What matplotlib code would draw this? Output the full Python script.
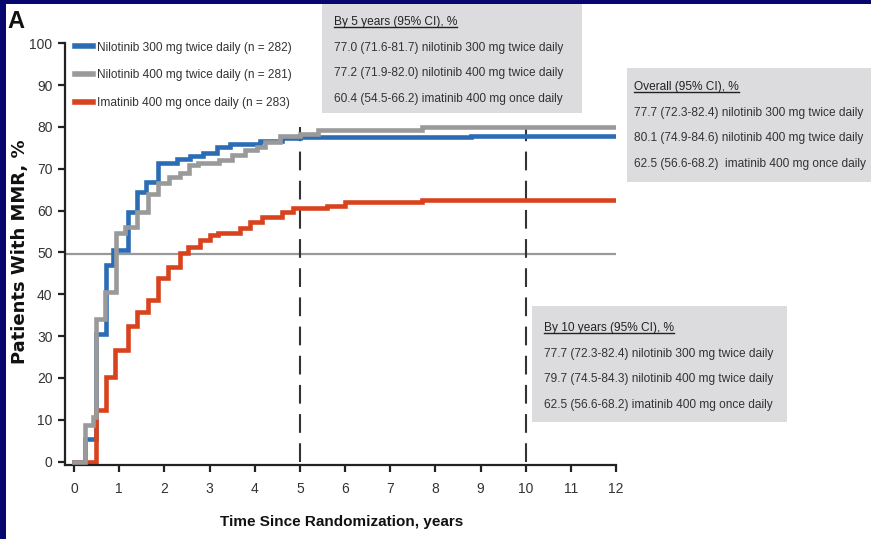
import matplotlib
matplotlib.use("Agg")
import matplotlib.pyplot as plt
from matplotlib.lines import Line2D
from matplotlib.patches import Rectangle

# ---------------- DATA ---------------- #

nil300_t = [0, 0.24, 0.49, 0.71, 0.87, 1.2, 1.39, 1.6, 1.86, 2.28, 2.57, 2.86,
            3.17, 3.45, 4.12, 4.6, 5.0, 8.8, 12]
nil300_y = [0, 5.3, 30.5, 47.0, 50.6, 59.6, 64.4, 66.8, 71.5, 72.3, 73.0, 73.8,
            75.2, 75.9, 76.6, 77.3, 77.5, 77.9, 77.9]

nil400_t = [0, 0.24, 0.42, 0.49, 0.69, 0.94, 1.13, 1.4, 1.64, 1.86, 2.1, 2.35,
            2.55, 2.75, 3.2, 3.5, 3.79, 4.05, 4.23, 4.56, 5.0, 5.4, 7.7, 12]
nil400_y = [0, 8.8, 10.7, 34.0, 40.5, 54.6, 56.0, 59.6, 64.0, 66.5, 68.0, 69.0,
            70.8, 71.3, 72.0, 73.3, 74.5, 75.2, 76.4, 77.8, 78.3, 79.3, 79.9, 79.9]

ima400_t = [0, 0.48, 0.71, 0.9, 1.2, 1.39, 1.64, 1.86, 2.08, 2.35, 2.52, 2.79,
            3.0, 3.19, 3.67, 3.9, 4.16, 4.6, 4.85, 5.6, 6.0, 7.7, 12]
ima400_y = [0, 12.4, 20.2, 26.7, 32.4, 35.8, 38.6, 43.8, 46.5, 49.8, 51.3, 53.0,
            54.1, 54.7, 55.8, 57.4, 58.5, 59.6, 60.6, 61.2, 62.0, 62.5, 62.5]

series_labels = [
    "Nilotinib 300 mg twice daily (n = 282)",
    "Nilotinib 400 mg twice daily (n = 281)",
    "Imatinib 400 mg once daily (n = 283)",
]

box5_title = "By 5 years (95% CI), %"
box5_lines = [
    "77.0 (71.6-81.7) nilotinib 300 mg twice daily",
    "77.2 (71.9-82.0) nilotinib 400 mg twice daily",
    "60.4 (54.5-66.2) imatinib 400 mg once daily",
]
overall_title = "Overall (95% CI), %"
overall_lines = [
    "77.7 (72.3-82.4) nilotinib 300 mg twice daily",
    "80.1 (74.9-84.6) nilotinib 400 mg twice daily",
    "62.5 (56.6-68.2)  imatinib 400 mg once daily",
]
box10_title = "By 10 years (95% CI), %"
box10_lines = [
    "77.7 (72.3-82.4) nilotinib 300 mg twice daily",
    "79.7 (74.5-84.3) nilotinib 400 mg twice daily",
    "62.5 (56.6-68.2) imatinib 400 mg once daily",
]

landmarks = [5, 10]
median_line = 49.6

# ---------------- STYLE ---------------- #

SANS = ["Liberation Sans", "DejaVu Sans"]
plt.rcParams["font.family"] = SANS

BLUE = "#2b6cb5"
GRAY = "#9a9a9a"
RED = "#d8431e"
NAVY = "#06066e"
TEXT = "#333333"
BOXFILL = "#dcdcde"
BOXFS = 8.6

W, H = 871, 539
fig = plt.figure(figsize=(W / 100, H / 100), dpi=100)
fig.patch.set_facecolor("white")

ax = fig.add_axes([65 / W, 1 - 465 / H, 551 / W, (465 - 43.3) / H])
ax.set_facecolor("none")
ax.set_zorder(2)
ax.set_xlim(-0.2, 12)
ax.set_ylim(-0.8, 100)

# reference lines
ax.axhline(median_line, color="#999999", lw=1.6, zorder=1)
for lm in landmarks:
    ax.plot([lm, lm], [0, 80], color="#333333", lw=1.5,
            dashes=(9, 5), zorder=1)

# curves
ax.step(nil400_t, nil400_y, where="post", color=GRAY, lw=3.3,
        zorder=3, solid_joinstyle="miter")
ax.step(nil300_t, nil300_y, where="post", color=BLUE, lw=3.3,
        zorder=2, solid_joinstyle="miter")
ax.step(ima400_t, ima400_y, where="post", color=RED, lw=3.3,
        zorder=2, solid_joinstyle="miter")

# axes styling
for side in ["top", "right"]:
    ax.spines[side].set_visible(False)
for side in ["left", "bottom"]:
    ax.spines[side].set_linewidth(1.6)
    ax.spines[side].set_color("#222222")

ax.set_xticks(range(0, 13))
ax.set_yticks(range(0, 101, 10))
ax.tick_params(direction="out", length=5, width=1.6, color="#222222",
               labelsize=10, labelcolor=TEXT)
ax.tick_params(axis="x", pad=7)
ax.tick_params(axis="y", pad=4)

# legend
leg = ax.legend([Line2D([0], [0], color=c, lw=4) for c in (BLUE, GRAY, RED)],
                series_labels, loc="upper left", bbox_to_anchor=(0.018, 1.004),
                frameon=False, fontsize=BOXFS, handlelength=1.5,
                handletextpad=0.35, labelspacing=1.33, borderaxespad=0,
                borderpad=0)
for t in leg.get_texts():
    t.set_color(TEXT)

# axis labels
fig.text(20 / W, 1 - 252 / H, "Patients With MMR, %", rotation=90,
         ha="center", va="center", fontsize=13, fontweight="bold",
         family=["DejaVu Sans"], color="#111111")
fig.text(342 / W, 1 - 522 / H, "Time Since Randomization, years",
         ha="center", va="center", fontsize=11, fontweight="bold",
         color="#111111")
fig.text(7 / W, 1 - 21 / H, "A", ha="left", va="center", fontsize=17,
         fontweight="bold", color="#111111")

# ---------------- TEXT BOXES ---------------- #

titles = []


def text_box(x0, y0, x1, y1, title, lines, tx, ty, dy):
    fig.add_artist(Rectangle((x0 / W, 1 - y1 / H), (x1 - x0) / W, (y1 - y0) / H,
                             transform=fig.transFigure, facecolor=BOXFILL,
                             edgecolor="none", zorder=0))
    t = fig.text(tx / W, 1 - ty / H, title, ha="left", va="center",
                 fontsize=BOXFS, color="#222222")
    titles.append(t)
    for i, line in enumerate(lines):
        fig.text(tx / W, 1 - (ty + dy * (i + 1)) / H, line, ha="left",
                 va="center", fontsize=BOXFS, color=TEXT)


text_box(322, 4, 582, 113, box5_title, box5_lines, 334, 22, 25.7)
text_box(627, 68, 871, 182, overall_title, overall_lines, 634, 87, 25.7)
text_box(532, 306, 787, 422, box10_title, box10_lines, 544, 328, 25.7)

# underline the box titles
fig.canvas.draw()
renderer = fig.canvas.get_renderer()
for t in titles:
    bb = t.get_window_extent(renderer)
    yb = bb.y0 + 1
    fig.add_artist(Line2D([bb.x0 / W, bb.x1 / W], [yb / H, yb / H],
                          transform=fig.transFigure, color="#222222", lw=1.0))

# navy frame
fig.add_artist(Rectangle((0, 1 - 4 / H), 1, 4 / H, transform=fig.transFigure,
                         facecolor=NAVY, edgecolor="none", zorder=5))
fig.add_artist(Rectangle((0, 0), 6 / W, 1, transform=fig.transFigure,
                         facecolor=NAVY, edgecolor="none", zorder=5))

fig.savefig("out.png", dpi=100)
plt.close(fig)
